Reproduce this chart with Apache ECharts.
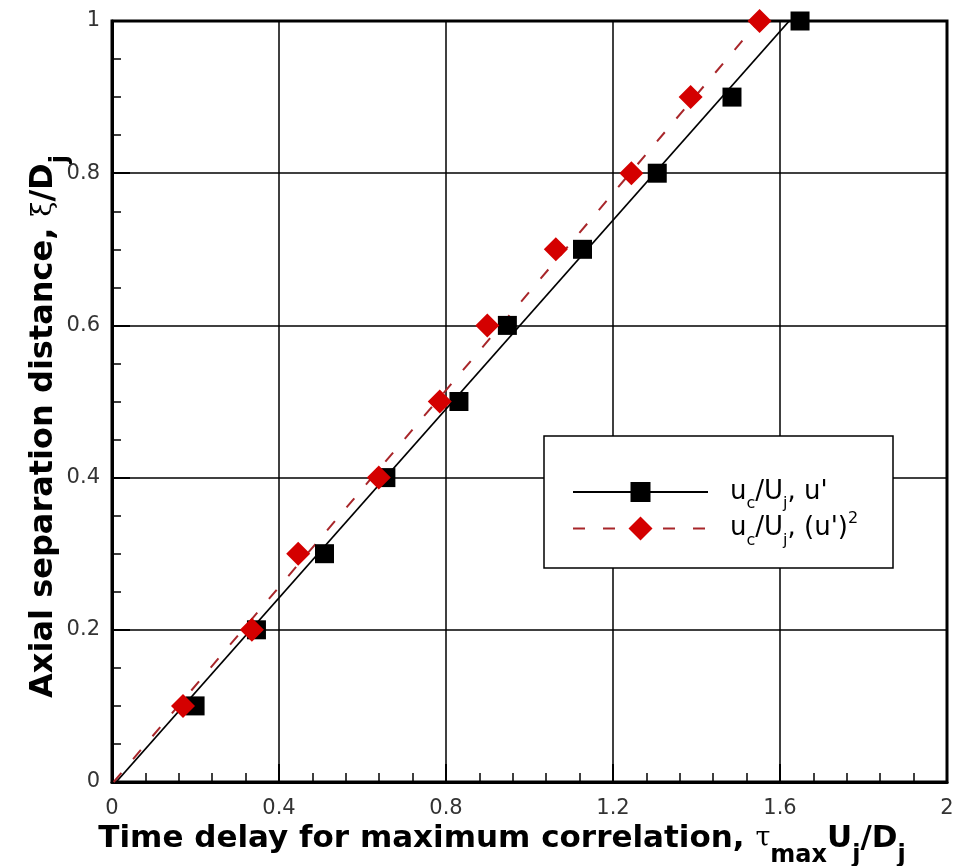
<!DOCTYPE html>
<html>
<head>
<meta charset="utf-8">
<script src="https://cdn.jsdelivr.net/npm/echarts@6/dist/echarts.min.js"></script>
<style>
  html, body { margin: 0; padding: 0; background: #fff; }
  #chart { width: 954px; height: 866px; }
</style>
</head>
<body>
<div id="chart"></div>
<script>
// Axial separation distance xi/Dj at each probe pair
const separation = [0.1, 0.2, 0.3, 0.4, 0.5, 0.6, 0.7, 0.8, 0.9, 1.0];
// Time delay for maximum correlation, tau_max Uj/Dj, from u'
const delayLinear = [0.199, 0.346, 0.509, 0.656, 0.831, 0.947, 1.127, 1.306, 1.485, 1.648];
// Time delay for maximum correlation from (u')^2
const delaySquared = [0.170, 0.335, 0.446, 0.639, 0.785, 0.899, 1.063, 1.244, 1.386, 1.551];

// Straight-line fits through each set: [delay, separation] end points
const fitLinear = [[0.010, 0], [1.622, 1]];
const fitSquared = [[0.004, 0], [1.550, 1]];

const seriesNames = ["uc/Uj, u'", "uc/Uj, (u')^2"];
const legendLabels = {
  "uc/Uj, u'": "u{sub|c}/U{sub|j}, u'",
  "uc/Uj, (u')^2": "u{sub|c}/U{sub|j}, (u'){sup|2}"
};

const xTicks = { min: 0, max: 2, step: 0.4 };
const yTicks = { min: 0, max: 1, step: 0.2 };

const titleFont = 'DejaVu Sans, sans-serif';
const labelFont = 'DejaVu Sans, sans-serif';

function zip(xs, ys) { return xs.map((x, i) => [x, ys[i]]); }

function fitLine(ends) {
  // end points carry no markers; the legend still shows the series symbol
  return ends.map(p => ({ value: p, symbol: 'none' }));
}

const legendText = {
  fontFamily: labelFont, fontSize: 26, color: '#000', padding: [0, 0, 0, 17],
  rich: {
    sub: { fontFamily: labelFont, fontSize: 16, color: '#000', padding: [24, 0, 0, 0] },
    sup: { fontFamily: labelFont, fontSize: 16, color: '#000', padding: [0, 0, 19, 0] }
  }
};

const chart = echarts.init(document.getElementById('chart'), null, { renderer: 'canvas' });

chart.setOption({
  animation: false,
  backgroundColor: '#fff',
  grid: {
    left: 112, right: 7, top: 21, bottom: 84,
    outerBoundsMode: 'none',
    containLabel: false,
    show: true, borderColor: '#000', borderWidth: 3, backgroundColor: 'transparent'
  },
  xAxis: {
    type: 'value',
    min: xTicks.min, max: xTicks.max, interval: xTicks.step,
    name: 'Time delay for maximum correlation, {tau|τ}{sub|max}U{sub|j}/D{sub|j}',
    nameLocation: 'middle',
    nameGap: 27,
    nameMoveOverlap: false,
    nameTextStyle: {
      fontFamily: titleFont, fontWeight: 'bold', fontSize: 31, color: '#000',
      padding: [0, 55, 0, 0],
      rich: {
        tau: { fontFamily: 'DejaVu Serif, serif', fontWeight: 'normal', fontSize: 27, color: '#000' },
        sub: { fontFamily: titleFont, fontWeight: 'bold', fontSize: 24, color: '#000', padding: [35, 0, 0, 0] }
      }
    },
    axisLine: { show: true, lineStyle: { color: '#000', width: 3 } },
    axisTick: { show: true, inside: true, length: 18, lineStyle: { color: '#000', width: 2 } },
    minorTick: { show: true, splitNumber: 5, length: 9, lineStyle: { color: '#000', width: 1.5 } },
    axisLabel: { fontFamily: labelFont, fontSize: 21, color: '#333', margin: 16 },
    splitLine: { show: true, lineStyle: { color: '#000', width: 1.5 } }
  },
  yAxis: {
    type: 'value',
    min: yTicks.min, max: yTicks.max, interval: yTicks.step,
    name: 'Axial separation distance, {xi|ξ}/D{sub|j}',
    nameLocation: 'middle',
    nameGap: 39,
    nameRotate: 90,
    nameMoveOverlap: false,
    nameTextStyle: {
      fontFamily: titleFont, fontWeight: 'bold', fontSize: 32, color: '#000',
      padding: [0, 50, 0, 0],
      rich: {
        xi: { fontFamily: 'DejaVu Serif, serif', fontWeight: 'normal', fontSize: 27, color: '#000' },
        sub: { fontFamily: titleFont, fontWeight: 'bold', fontSize: 24, color: '#000', padding: [35, 0, 0, 0] }
      }
    },
    axisLine: { show: true, lineStyle: { color: '#000', width: 3 } },
    axisTick: { show: true, inside: true, length: 18, lineStyle: { color: '#000', width: 2 } },
    minorTick: { show: true, splitNumber: 4, length: 9, lineStyle: { color: '#000', width: 1.5 } },
    axisLabel: { fontFamily: labelFont, fontSize: 21, color: '#333', margin: 12 },
    splitLine: { show: true, lineStyle: { color: '#000', width: 1.5 } }
  },
  graphic: [{
    type: 'rect',
    z: 10,
    shape: { x: 544, y: 436, width: 349, height: 132 },
    style: { fill: '#fff', stroke: '#000', lineWidth: 1.5 }
  }],
  legend: [
    {
      z: 20, left: 572, top: 479, padding: 0,
      itemWidth: 135, itemHeight: 25,
      data: [seriesNames[0]],
      formatter: name => legendLabels[name],
      textStyle: legendText
    },
    {
      z: 20, left: 572, top: 511, padding: 0,
      itemWidth: 135, itemHeight: 30,
      data: [seriesNames[1]],
      formatter: name => legendLabels[name],
      textStyle: legendText
    }
  ],
  series: [
    {
      name: seriesNames[0],
      type: 'line',
      data: fitLine(fitLinear),
      symbol: 'rect',
      symbolSize: 19,
      itemStyle: { color: '#000' },
      lineStyle: { color: '#000', width: 1.8 },
      z: 3
    },
    {
      name: seriesNames[1],
      type: 'line',
      data: fitLine(fitSquared),
      symbol: 'diamond',
      symbolSize: 24,
      itemStyle: { color: '#d40000' },
      lineStyle: { color: '#a8262a', width: 2, type: [12, 18] },
      z: 4
    },
    {
      name: 'u-prime points',
      type: 'scatter',
      data: zip(delayLinear, separation),
      symbol: 'rect',
      symbolSize: 19,
      itemStyle: { color: '#000', opacity: 1 },
      z: 5
    },
    {
      name: 'u-prime squared points',
      type: 'scatter',
      data: zip(delaySquared, separation),
      symbol: 'diamond',
      symbolSize: 24,
      itemStyle: { color: '#d40000', opacity: 1 },
      z: 6
    }
  ]
});
</script>
</body>
</html>
